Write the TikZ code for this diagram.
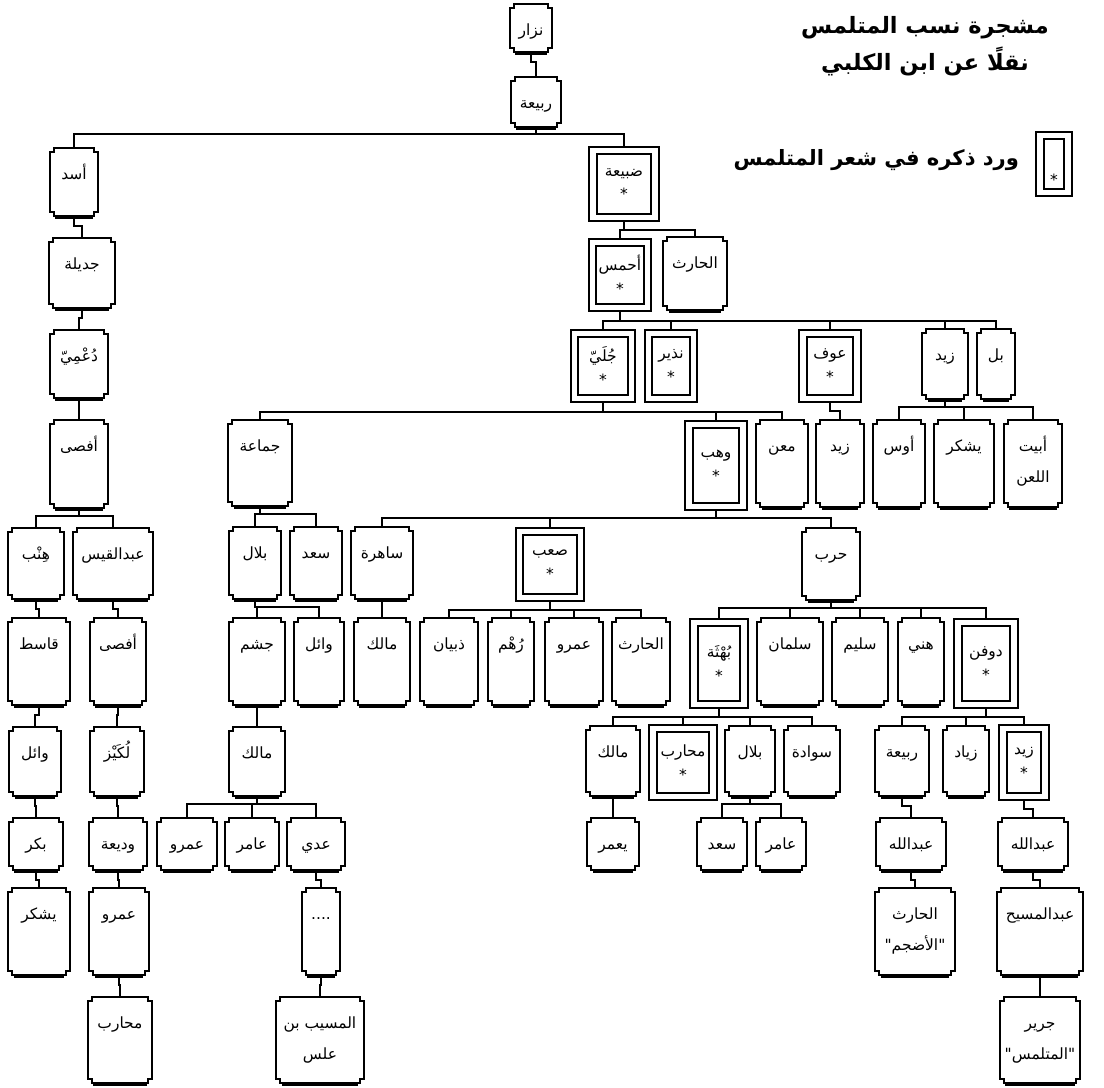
\documentclass[tikz,border=0pt]{standalone}
\usepackage{fontspec}
\newfontfamily\arabicfont[Script=Arabic]{DejaVu Sans}
\TeXXeTstate=1
\usetikzlibrary{calc,backgrounds}
\newcommand{\artx}[1]{\beginR#1\endR}
\tikzset{
  person/.style 2 args={anchor=north, inner sep=0pt, align=center,
    font=\arabicfont\fontsize{11}{22}\selectfont,
    minimum width=#1*0.25mm, minimum height=#2*0.25mm,
    text height=22pt, text depth=(#2-31)*0.25mm},
  person2/.style 2 args={person={#1}{#2}, text height=44pt, text depth=(#2-62)*0.25mm},
  starred/.style 2 args={anchor=north, inner sep=0pt, align=center, yshift=-1.15mm,
    font=\arabicfont\fontsize{11}{17}\selectfont,
    draw, double, line width=1.3pt, double distance=4pt,
    minimum width=(#1-10)*0.25mm, minimum height=(#2-10)*0.25mm},
  frame/.style={line width=1.4pt},
  link/.style={line width=1.4pt},
}
\begin{document}
\begin{tikzpicture}[x=0.25mm, y=-0.25mm]
\useasboundingbox (0,0) rectangle (1104,1088);
% title and legend
\node[align=center, font=\arabicfont\bfseries\fontsize{16}{26}\selectfont] (title) at (925,46)
  {\artx{مشجرة نسب المتلمس}\\\artx{نقلًا عن ابن الكلبي}};
\node[starred={38}{67}, text height=32pt, text depth=1pt] (legbox) at (1054,130) {*};
\node[anchor=east, font=\arabicfont\bfseries\fontsize{15}{20}\selectfont] (legtext) at (1024,160)
  {\artx{ورد ذكره في شعر المتلمس}};
% people
\node[person={42}{47}] (nizar) at (531,4) {\artx{نزار}};
\node[person={50}{49}] (rabia) at (536,77) {\artx{ربيعة}};
\node[person={48}{67}] (asad) at (74,148) {\artx{أسد}};
\node[starred={72}{77}] (dubaia) at (624,145) {\artx{ضبيعة}\\*};
\node[person={65}{69}] (jadila) at (82,238) {\artx{جديلة}};
\node[starred={65}{75}] (ahmas) at (620,237) {\artx{أحمس}\\*};
\node[person={63}{72}] (harith1) at (695,237) {\artx{الحارث}};
\node[person={58}{67}] (duma) at (79,330) {\artx{دُعْمِيّ}};
\node[starred={67}{75}] (juli) at (603,328) {\artx{جُلَيّ}\\*};
\node[starred={55}{75}] (nadhir) at (671,328) {\artx{نذير}\\*};
\node[starred={64}{75}] (awf) at (830,328) {\artx{عوف}\\*};
\node[person={45}{69}] (zayd1) at (945,329) {\artx{زيد}};
\node[person={37}{69}] (bal) at (996,329) {\artx{بل}};
\node[person={58}{87}] (afsa1) at (79,420) {\artx{أفصى}};
\node[person={63}{85}] (jamaa) at (260,420) {\artx{جماعة}};
\node[starred={64}{92}] (wahb) at (716,419) {\artx{وهب}\\*};
\node[person={51}{86}] (maan) at (782,420) {\artx{معن}};
\node[person={47}{86}] (zayd2) at (840,420) {\artx{زيد}};
\node[person={52}{86}] (aws) at (899,420) {\artx{أوس}};
\node[person={59}{86}] (yashkur1) at (964,420) {\artx{يشكر}};
\node[person2={58}{86}] (abayt) at (1033,420) {\artx{أبيت}\\\artx{اللعن}};
\node[person={55}{70}] (hinb) at (36,528) {\artx{هِنْب}};
\node[person={80}{70}] (abdqays) at (113,528) {\artx{عبدالقيس}};
\node[person={52}{71}] (bilal1) at (255,527) {\artx{بلال}};
\node[person={52}{71}] (saad1) at (316,527) {\artx{سعد}};
\node[person={61}{71}] (sahira) at (382,527) {\artx{ساهرة}};
\node[starred={71}{76}] (saab) at (550,526) {\artx{صعب}\\*};
\node[person={57}{71}] (harb) at (831,528) {\artx{حرب}};
\node[person={61}{86}] (qasit) at (39,618) {\artx{قاسط}};
\node[person={56}{86}] (afsa2) at (118,618) {\artx{أفصى}};
\node[person={55}{86}] (jusham) at (257,618) {\artx{جشم}};
\node[person={49}{86}] (wail1) at (319,618) {\artx{وائل}};
\node[person={56}{86}] (malik1) at (382,618) {\artx{مالك}};
\node[person={57}{86}] (dhubyan) at (449,618) {\artx{ذبيان}};
\node[person={46}{86}] (ruhm) at (511,618) {\artx{رُهْم}};
\node[person={58}{86}] (amr1) at (574,618) {\artx{عمرو}};
\node[person={57}{86}] (harith2) at (641,618) {\artx{الحارث}};
\node[starred={60}{92}] (buhtha) at (719,617) {\artx{بُهْثَة}\\*};
\node[person={65}{86}] (salman) at (790,618) {\artx{سلمان}};
\node[person={55}{86}] (sulaym) at (860,618) {\artx{سليم}};
\node[person={46}{86}] (hani) at (921,618) {\artx{هني}};
\node[starred={66}{92}] (dufn) at (986,617) {\artx{دوفن}\\*};
\node[person={51}{68}] (wail2) at (35,727) {\artx{وائل}};
\node[person={53}{68}] (lukayz) at (117,727) {\artx{لُكَيْز}};
\node[person={55}{68}] (malik2) at (257,727) {\artx{مالك}};
\node[person={53}{69}] (malik3) at (613,726) {\artx{مالك}};
\node[starred={70}{78}] (muharib1) at (683,723) {\artx{محارب}\\*};
\node[person={49}{69}] (bilal2) at (750,726) {\artx{بلال}};
\node[person={56}{69}] (sawada) at (812,726) {\artx{سوادة}};
\node[person={53}{69}] (rabia2) at (902,726) {\artx{ربيعة}};
\node[person={46}{69}] (ziyad) at (966,726) {\artx{زياد}};
\node[starred={52}{78}] (zayd3) at (1024,723) {\artx{زيد}\\*};
\node[person={54}{51}] (bakr) at (36,818) {\artx{بكر}};
\node[person={57}{51}] (wadia) at (118,818) {\artx{وديعة}};
\node[person={59}{51}] (amr2) at (187,818) {\artx{عمرو}};
\node[person={53}{51}] (amir1) at (252,818) {\artx{عامر}};
\node[person={57}{51}] (adi) at (316,818) {\artx{عدي}};
\node[person={51}{51}] (yamur) at (613,818) {\artx{يعمر}};
\node[person={50}{51}] (saad2) at (722,818) {\artx{سعد}};
\node[person={50}{51}] (amir2) at (781,818) {\artx{عامر}};
\node[person={70}{51}] (abdallah1) at (911,818) {\artx{عبدالله}};
\node[person={70}{51}] (abdallah2) at (1033,818) {\artx{عبدالله}};
\node[person={61}{86}] (yashkur2) at (39,888) {\artx{يشكر}};
\node[person={59}{86}] (amr3) at (119,888) {\artx{عمرو}};
\node[person={38}{86}] (dots) at (321,888) {....};
\node[person2={79}{86}] (harith3) at (915,888) {\artx{الحارث}\\\artx{"الأضجم"}};
\node[person={86}{86}] (abdmasih) at (1040,888) {\artx{عبدالمسيح}};
\node[person={64}{85}] (muharib2) at (120,997) {\artx{محارب}};
\node[person2={87}{85}] (musayyab) at (320,997) {\artx{المسيب بن}\\\artx{علس}};
\node[person2={80}{85}] (jarir) at (1040,997) {\artx{جرير}\\\artx{"المتلمس"}};
% notched frames
\foreach \n in {nizar,rabia,asad,jadila,harith1,duma,zayd1,bal,afsa1,jamaa,maan,zayd2,aws,
    yashkur1,abayt,hinb,abdqays,bilal1,saad1,sahira,harb,qasit,afsa2,jusham,wail1,malik1,
    dhubyan,ruhm,amr1,harith2,salman,sulaym,hani,wail2,lukayz,malik2,malik3,bilal2,sawada,
    rabia2,ziyad,bakr,wadia,amr2,amir1,adi,yamur,saad2,amir2,abdallah1,abdallah2,yashkur2,
    amr3,dots,harith3,abdmasih,muharib2,musayyab,jarir}{
  \draw[frame] ($(\n.north west)+(1mm,0)$) -- ($(\n.north east)+(-1mm,0)$) -- ++(0,-1mm) -- ++(1mm,0)
    -- ($(\n.south east)+(0,1mm)$) -- ++(-1mm,0) -- ++(0,-1mm)
    -- ($(\n.south west)+(1mm,0)$) -- ++(0,1mm) -- ++(-1mm,0)
    -- ($(\n.north west)+(0,-1mm)$) -- ++(1mm,0) -- cycle;
  \fill ($(\n.south west)+(1.4mm,0)$) rectangle ($(\n.south east)+(-1.4mm,-0.8mm)$);
}
% lines of descent
\begin{scope}[on background layer]
\foreach \p/\c in {nizar/rabia,asad/jadila,jadila/duma,duma/afsa1,hinb/qasit,qasit/wail2,
    wail2/bakr,bakr/yashkur2,abdqays/afsa2,afsa2/lukayz,lukayz/wadia,wadia/amr3,amr3/muharib2,
    sahira/malik1,jusham/malik2,adi/dots,dots/musayyab,malik3/yamur,rabia2/abdallah1,
    abdallah1/harith3,abdallah2/abdmasih,abdmasih/jarir}
  \draw[link] (\p.south) -- ++(0,-2.5mm) -| (\c.north);
\foreach \p/\c in {zayd3/abdallah2,awf/zayd2}
  \draw[link] (\p.south) -- ++(0,-3mm) -| (\c.north);
\foreach \c in {asad,dubaia} \draw[link] (rabia.south) -- ++(0,-1.8mm) -| (\c.north);
\foreach \c in {ahmas,harith1} \draw[link] (dubaia.south) -- ++(0,-2.8mm) -| (\c.north);
\foreach \c in {juli,nadhir,awf,zayd1,bal} \draw[link] (ahmas.south) -- ++(0,-3.1mm) -| (\c.north);
\foreach \c in {jamaa,wahb,maan} \draw[link] (juli.south) -- ++(0,-3.1mm) -| (\c.north);
\foreach \c in {aws,yashkur1,abayt} \draw[link] (zayd1.south) -- ++(0,-2.2mm) -| (\c.north);
\foreach \c in {hinb,abdqays} \draw[link] (afsa1.south) -- ++(0,-2mm) -| (\c.north);
\foreach \c in {bilal1,saad1} \draw[link] (jamaa.south) -- ++(0,-2.2mm) -| (\c.north);
\foreach \c in {sahira,saab,harb} \draw[link] (wahb.south) -- ++(0,-2.6mm) -| (\c.north);
\foreach \c in {jusham,wail1} \draw[link] (bilal1.south) -- ++(0,-2mm) -| (\c.north);
\foreach \c in {dhubyan,ruhm,amr1,harith2} \draw[link] (saab.south) -- ++(0,-2.8mm) -| (\c.north);
\foreach \c in {buhtha,salman,sulaym,hani,dufn} \draw[link] (harb.south) -- ++(0,-2mm) -| (\c.north);
\foreach \c in {amr2,amir1,adi} \draw[link] (malik2.south) -- ++(0,-2.2mm) -| (\c.north);
\foreach \c in {malik3,muharib1,bilal2,sawada} \draw[link] (buhtha.south) -- ++(0,-2.8mm) -| (\c.north);
\foreach \c in {saad2,amir2} \draw[link] (bilal2.south) -- ++(0,-2.2mm) -| (\c.north);
\foreach \c in {rabia2,ziyad,zayd3} \draw[link] (dufn.south) -- ++(0,-2.8mm) -| (\c.north);
\end{scope}
\end{tikzpicture}
\end{document}
